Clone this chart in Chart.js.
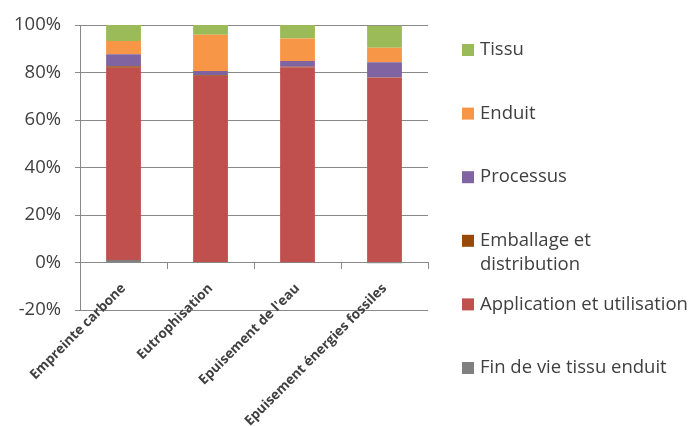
<!DOCTYPE html>
<html lang="fr">
<head>
<meta charset="UTF-8">
<title>Impacts par étape</title>
<script src="https://cdn.jsdelivr.net/npm/chart.js"></script>
<style>
  html, body { margin: 0; padding: 0; background: #fff; }
  #wrap { width: 691px; height: 426px; }
</style>
</head>
<body>
<div id="wrap"><canvas id="myChart" width="691" height="426"></canvas></div>
<script>
// categories and series (% of total)
const categories = ['Empreinte carbone', 'Eutrophisation', "Epuisement de l'eau", 'Epuisement énergies fossiles'];
const finDeVie    = [1.1, 0.2, 0.1, -0.3];
const application = [80.9, 78.4, 82.1, 77.8];
const emballage   = [0.7, 0.3, 0.3, 0.1];
const processus   = [5.0, 1.8, 2.4, 6.4];
const enduit      = [5.6, 15.2, 9.5, 6.2];
const tissu       = [6.7, 4.1, 5.6, 9.2];
const yTicks = [-20, 0, 20, 40, 60, 80, 100];

const seriesNames = ['Fin de vie tissu enduit', 'Application et utilisation', 'Emballage et distribution', 'Processus', 'Enduit', 'Tissu'];
const legendLines = [['Fin de vie tissu enduit'], ['Application et utilisation'], ['Emballage et', 'distribution'], ['Processus'], ['Enduit'], ['Tissu']];
const colors = ['#7f7f7f', '#c0504d', '#984807', '#8064a2', '#f79646', '#9bbb59'];
const seriesData = [finDeVie, application, emballage, processus, enduit, tissu];

const gridColor = '#898989';
const textColor = '#404040';

// legend drawn on the right, Tissu on top
const sideLegend = {
  id: 'sideLegend',
  afterDraw(chart) {
    const c = chart.ctx;
    c.save();
    c.font = '18.5px "Open Sans", sans-serif';
    c.textBaseline = 'middle';
    const x0 = 462, top = 50, step = 63.6;
    for (let k = 0; k < seriesNames.length; k++) {
      const i = seriesNames.length - 1 - k;
      const y = top + k * step;
      c.fillStyle = colors[i];
      c.fillRect(x0, y - 6, 12, 12);
      c.fillStyle = textColor;
      legendLines[i].forEach((line, j) => c.fillText(line, x0 + 18, y + j * 24));
    }
    c.restore();
  }
};

new Chart(document.getElementById('myChart'), {
  type: 'bar',
  data: {
    labels: categories,
    datasets: seriesData.map((d, i) => ({
      label: seriesNames[i],
      data: d,
      backgroundColor: colors[i],
      barPercentage: 0.4,
      categoryPercentage: 1
    }))
  },
  options: {
    responsive: false,
    animation: false,
    layout: { padding: { left: 0, right: 263, top: 21, bottom: 116 } },
    plugins: { legend: { display: false }, tooltip: { enabled: false } },
    scales: {
      x: {
        stacked: true,
        position: { y: 0 },
        grid: { offset: true, drawOnChartArea: false, drawTicks: true, tickLength: 6, color: gridColor },
        border: { display: true, color: gridColor, width: 1 },
        ticks: {
          minRotation: 45, maxRotation: 45, padding: 12,
          color: textColor,
          font: { family: '"Open Sans", sans-serif', size: 13.5, weight: 'bold' }
        }
      },
      y: {
        stacked: true,
        min: -20, max: 100,
        afterBuildTicks: (axis) => { axis.ticks = yTicks.map(v => ({ value: v })); },
        grid: { color: gridColor, lineWidth: 1, drawTicks: true, tickLength: 5 },
        border: { display: true, color: gridColor },
        ticks: {
          color: textColor, padding: 14,
          font: { family: '"Open Sans", sans-serif', size: 18.5 },
          callback: (v) => v + '%'
        }
      }
    }
  },
  plugins: [sideLegend]
});
</script>
</body>
</html>
